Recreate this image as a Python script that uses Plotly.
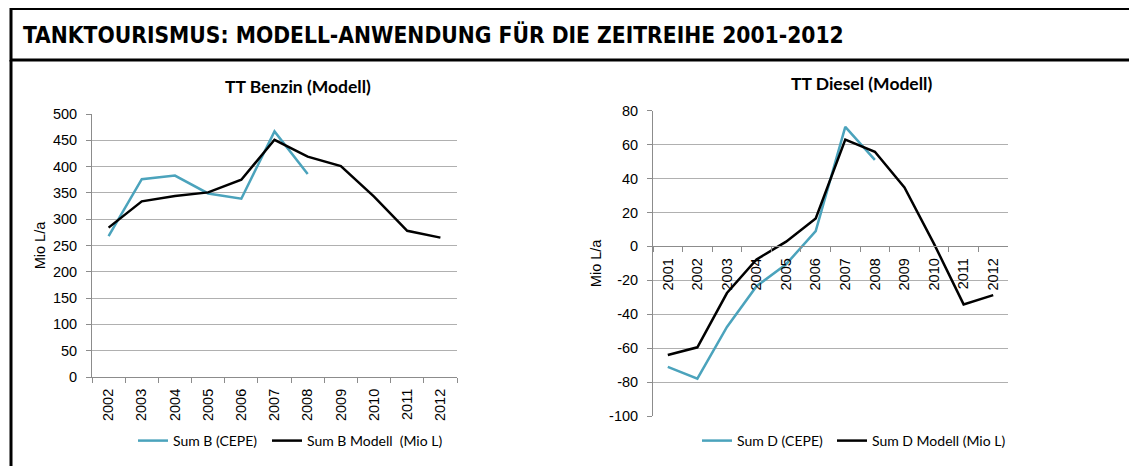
import plotly.graph_objects as go

W, H = 1137, 466
# the page body adds an 8px offset; positions below are reference pixel coords
OFF = 8

years_b = ["2002", "2003", "2004", "2005", "2006", "2007", "2008", "2009", "2010", "2011", "2012"]
benzin_cepe = [268, 376, 383, 349, 339, 467, 386]
benzin_modell = [284, 334, 344, 351, 375, 451, 419, 401, 343, 278, 265]

years_d = ["2001", "2002", "2003", "2004", "2005", "2006", "2007", "2008", "2009", "2010", "2011", "2012"]
diesel_cepe = [-71, -78, -47.5, -23.5, -10.5, 9, 70.5, 51]
diesel_modell = [-64, -59.5, -27.5, -7.7, 2.8, 16.5, 63, 55.8, 34.8, 1.5, -34.2, -28.7]

ticks_b = [0, 50, 100, 150, 200, 250, 300, 350, 400, 450, 500]
ticks_d = [-100, -80, -60, -40, -20, 0, 20, 40, 60, 80]
ticktext_d = ["-100", "-80", "-60", "-40", "-20", "0", "20", "40", "60", "80"]

TEAL = "#4BA3BC"
BLACK = "#000000"
GRID = "#B0B0B0"
AXIS = "#8C8C8C"
TICKFONT = dict(family="Liberation Sans, Arial", size=14.5, color="#000")


def px(x):
    return (x - OFF) / W


def py(y):
    return 1 - (y - OFF) / H


fig = go.Figure()

fig.add_trace(go.Scatter(x=years_b[:len(benzin_cepe)], y=benzin_cepe, mode="lines",
                         line=dict(color=TEAL, width=2.5), name="Sum B (CEPE)",
                         xaxis="x", yaxis="y", legend="legend"))
fig.add_trace(go.Scatter(x=years_b, y=benzin_modell, mode="lines",
                         line=dict(color=BLACK, width=2.5), name="Sum B Modell  (Mio L)",
                         xaxis="x", yaxis="y", legend="legend2"))
fig.add_trace(go.Scatter(x=years_d[:len(diesel_cepe)], y=diesel_cepe, mode="lines",
                         line=dict(color=TEAL, width=2.5), name="Sum D (CEPE)",
                         xaxis="x2", yaxis="y2", legend="legend3"))
fig.add_trace(go.Scatter(x=years_d, y=diesel_modell, mode="lines",
                         line=dict(color=BLACK, width=2.5), name="Sum D Modell (Mio L)",
                         xaxis="x2", yaxis="y2", legend="legend4"))

lx0, lx1 = px(92), px(457)
ly0, ly1 = py(377), py(114)
rx0, rx1 = px(653), px(1008)
ry0, ry1 = py(416), py(110.7)
rmin, rmax = -100, 80
zero_pos = ry0 + (ry1 - ry0) * (0 - rmin) / (rmax - rmin)

common_x = dict(type="category", tickson="boundaries", ticks="outside", ticklen=5,
                tickcolor=AXIS, showline=True, linecolor=AXIS, linewidth=1,
                showgrid=False, tickangle=-90, tickfont=TICKFONT, fixedrange=True,
                automargin=False, ticklabelstandoff=5)
common_y = dict(showgrid=True, gridcolor=GRID, gridwidth=1, zeroline=False,
                showline=True, linecolor=AXIS, linewidth=1, ticks="outside",
                ticklen=5, tickcolor=AXIS, tickfont=TICKFONT, automargin=False,
                ticklabelstandoff=6,
                title=dict(text="Mio L/a", standoff=3,
                           font=dict(family="Liberation Sans, Arial", size=14.5, color="#000")))

LEGFONT = dict(family="Lato, Noto Sans", size=14, color="#000")


def leg(xpix):
    return dict(orientation="h", x=px(xpix), y=py(441), xanchor="left", yanchor="middle",
                font=LEGFONT, bgcolor="rgba(0,0,0,0)", itemwidth=30)


fig.update_layout(
    width=W, height=H,
    margin=dict(l=0, r=0, t=0, b=0, pad=0, autoexpand=False),
    paper_bgcolor="white", plot_bgcolor="white",
    xaxis=dict(domain=[lx0, lx1], anchor="y", range=[-0.5, 10.5], **common_x),
    yaxis=dict(domain=[ly0, ly1], anchor="x", range=[0, 500], tickvals=ticks_b, **common_y),
    xaxis2=dict(domain=[rx0, rx1], anchor="free", position=zero_pos, range=[-0.5, 11.5], **common_x),
    yaxis2=dict(domain=[ry0, ry1], anchor="x2", range=[rmin, rmax], tickvals=ticks_d,
                ticktext=ticktext_d, **common_y),
    legend=leg(133),
    legend2=leg(267),
    legend3=leg(697),
    legend4=leg(832),
    showlegend=True,
)

# frame and header box
fig.add_shape(type="rect", xref="paper", yref="paper", x0=px(11), x1=px(1135), y0=py(60), y1=py(8.5),
              line=dict(color="black", width=3))
fig.add_shape(type="line", xref="paper", yref="paper", x0=px(11), x1=px(11), y0=py(60), y1=py(470),
              line=dict(color="black", width=3))
fig.add_shape(type="line", xref="paper", yref="paper", x0=px(1135), x1=px(1135), y0=py(60), y1=py(63),
              line=dict(color="black", width=3))
fig.add_shape(type="line", xref="paper", yref="paper", x0=px(1136), x1=px(1136), y0=py(461), y1=py(470),
              line=dict(color="black", width=2))

fig.add_annotation(text="<b>TANKTOURISMUS: MODELL-ANWENDUNG FÜR DIE ZEITREIHE 2001-2012</b>",
                   xref="paper", yref="paper", x=px(21), y=py(35), xanchor="left", yanchor="middle",
                   showarrow=False,
                   font=dict(family="DejaVu Sans Condensed", size=22.6, color="#000"))
fig.add_annotation(text="<b>TT Benzin (Modell)</b>", xref="paper", yref="paper",
                   x=px(298), y=py(86), xanchor="center", yanchor="middle", showarrow=False,
                   font=dict(family="Lato, Noto Sans", size=17.5, color="#000"))
fig.add_annotation(text="<b>TT Diesel (Modell)</b>", xref="paper", yref="paper",
                   x=px(861), y=py(84), xanchor="center", yanchor="middle", showarrow=False,
                   font=dict(family="Lato, Noto Sans", size=17.5, color="#000"))

fig.write_html("out.html")
